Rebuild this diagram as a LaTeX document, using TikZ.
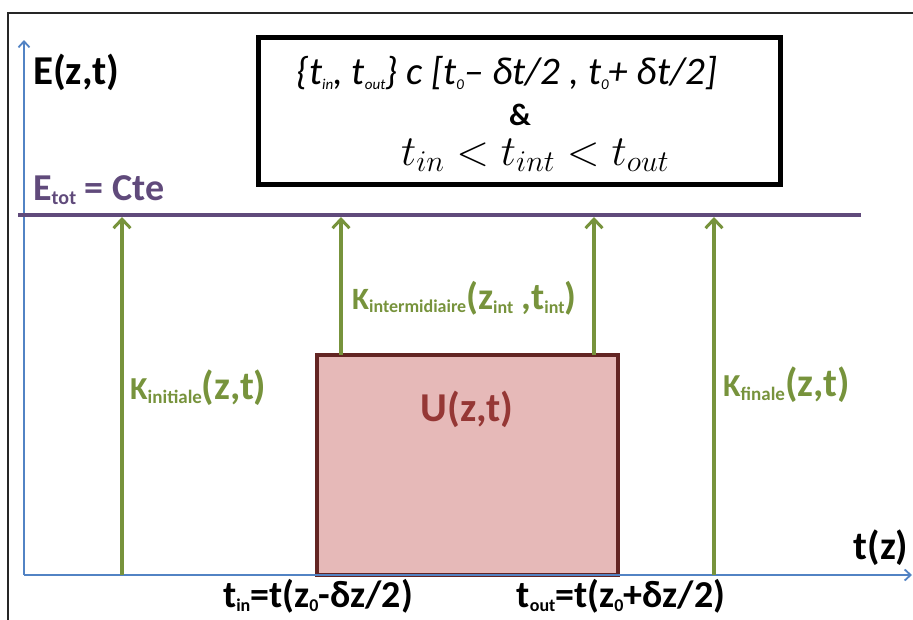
\RequirePackage{fix-cm}
\documentclass[tikz,border=0pt]{standalone}
\usepackage{fontspec}
\setmainfont{Carlito}
\usetikzlibrary{arrows.meta}
\definecolor{kgreen}{HTML}{77933C}
\definecolor{kpurple}{HTML}{604A7B}
\definecolor{kblue}{HTML}{5283C4}
\definecolor{upink}{HTML}{E6B9B8}
\definecolor{uborder}{HTML}{632523}
\definecolor{utext}{HTML}{953735}
\newcommand\fsz[1]{\fontsize{#1}{#1}\selectfont}
\newcommand\lowtxt[2]{\raisebox{-0.12em}{\fsz{#1}#2}}
\begin{document}
\begin{tikzpicture}[x=1pt,y=-1pt,
  axisline/.style={kblue,line width=2.4pt,-{Straight Barb[length=6pt,width=11pt,line width=1.8pt]}},
  karrow/.style={kgreen,line width=3.8pt,-{Straight Barb[length=9pt,width=17pt,line width=3pt]}},
  lbl/.style={inner sep=0pt,font=\bfseries},
  condbox/.style={draw=black,line width=5pt,minimum width=522pt,minimum height=147pt,inner sep=0pt},
  urect/.style={draw=uborder,fill=upink,line width=3.5pt,minimum width=301pt,minimum height=220pt,inner sep=0pt}]
\useasboundingbox (0,0) rectangle (913,619);
% outer frame
\draw[line width=1.8pt,black!85] (8,640) -- (8,13) -- (930,13);
% potential block
\node[urect] (U) at (467.5,465) {};
\node[lbl,text=utext] (Ut) at (467,409) {\fsz{41}U(z,t)};
% axes
\coordinate (O) at (24,575);
\coordinate (Ytop) at (24,40);
\coordinate (Xend) at (912,575);
\draw[axisline] (O) -- (Ytop);
\draw[axisline] (O) -- (Xend);
% total energy
\coordinate (Eleft) at (18,215);
\coordinate (Eright) at (861,215);
\draw[kpurple,line width=4.5pt] (Eleft) -- (Eright);
% green arrows
\coordinate (g1b) at (122,575); \coordinate (g1t) at (122,217);
\coordinate (g2b) at (341,355); \coordinate (g2t) at (341,217);
\coordinate (g3b) at (594,355); \coordinate (g3t) at (594,217);
\coordinate (g4b) at (714,575); \coordinate (g4t) at (714,217);
\draw[karrow] (g1b) -- (g1t);
\draw[karrow] (g2b) -- (g2t);
\draw[karrow] (g3b) -- (g3t);
\draw[karrow] (g4b) -- (g4t);
% condition box
\node[condbox] (cond) at (519,110.5) {};
\node[inner sep=0pt] (c1) at (507,73) {\fsz{39}\itshape \{t\lowtxt{15}{in}, t\lowtxt{15}{out}\} c [t\lowtxt{15}{0}– δt/2 , t\lowtxt{15}{0}+ δt/2]};
\node[lbl] (c2) at (520,115) {\fsz{31}\&};
\node[inner sep=0pt] (c3) at (535,155) {\fsz{43}$t_{in} < t_{int} < t_{out}$};
% labels
\node[lbl,anchor=west] (E) at (33,72) {\fsz{41}E(z,t)};
\node[lbl,anchor=west,text=kpurple] (Etot) at (33,190) {\fsz{38}E\lowtxt{20}{tot} = Cte};
\node[lbl,anchor=west,text=kgreen] (Ki) at (130,388) {\fsz{32}K\lowtxt{19}{initiale}\fsz{40}(z,t)};
\node[lbl,anchor=west,text=kgreen] (Km) at (352,298) {\fsz{31}K\lowtxt{18}{intermidiaire}\fsz{38}(z\lowtxt{18}{int} ,t\lowtxt{18}{int})};
\node[lbl,anchor=west,text=kgreen] (Kf) at (723,385) {\fsz{32}K\lowtxt{19}{finale}\fsz{40}(z,t)};
\node[lbl] (tz) at (881,548) {\fsz{40}t(z)};
\node[lbl] (tin) at (318,596) {\fsz{38}t\lowtxt{18}{in}=t(z\lowtxt{18}{0}-δz/2)};
\node[lbl] (tout) at (621,596) {\fsz{38}t\lowtxt{18}{out}=t(z\lowtxt{18}{0}+δz/2)};
\end{tikzpicture}
\end{document}
